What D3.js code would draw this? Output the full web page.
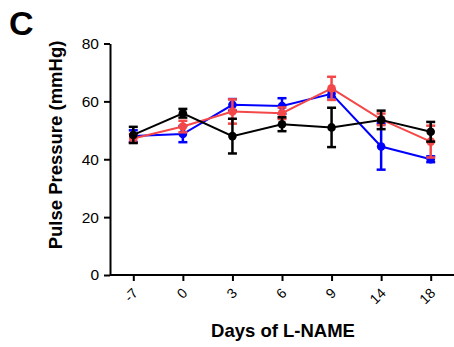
<!DOCTYPE html>
<html>
<head>
<meta charset="utf-8">
<script src="https://cdn.jsdelivr.net/npm/d3@7"></script>
<style>
  body { margin: 0; background: #fff; }
  text { font-family: Arial, "Liberation Sans", sans-serif; }
</style>
</head>
<body>
<div id="chart"></div>
<script>
// tick labels / categories
var days = ['-7', '0', '3', '6', '9', '14', '18'];
var yTicks = [0, 20, 40, 60, 80];

// series means and error (SEM)
var blueMean = [48.0, 48.7, 58.8, 58.4, 62.6, 44.4, 40.0];
var blueErr  = [2.0, 2.8, 2.0, 2.7, 1.2, 8.0, 1.0];
var redMean  = [47.2, 51.3, 56.5, 55.9, 64.5, 53.8, 46.1];
var redErr   = [1.5, 2.0, 4.2, 2.0, 4.0, 2.0, 5.5];
var blackMean = [48.4, 55.9, 48.0, 52.1, 51.0, 53.6, 49.5];
var blackErr  = [2.8, 1.5, 6.0, 2.4, 6.8, 3.2, 3.4];

var width = 454, height = 347;
var padding = { top: 43.5, right: 0, bottom: 72, left: 110 };

var svg = d3.select('#chart').append('svg')
  .attr('width', width)
  .attr('height', height);

var xscale = d3.scalePoint()
  .domain(days)
  .range([padding.left, width - padding.right])
  .padding(0.47);

var yscale = d3.scaleLinear()
  .domain([0, 80])
  .range([height - padding.bottom, padding.top]);

// panel letter
svg.append('text')
  .attr('x', 9).attr('y', 35)
  .style('font-size', '34px')
  .style('font-weight', 'bold')
  .text('C');

// y axis
var yAxis = svg.append('g')
  .attr('transform', 'translate(' + padding.left + ',0)')
  .call(d3.axisLeft(yscale).tickValues(yTicks).tickSize(6).tickSizeOuter(0).tickPadding(5));
yAxis.select('.domain').attr('stroke-width', 2);
yAxis.selectAll('.tick line').attr('stroke-width', 2);
yAxis.selectAll('.tick text').style('font-size', '15.5px').attr('fill', '#000');

// x axis
var xAxis = svg.append('g')
  .attr('transform', 'translate(0,' + (height - padding.bottom) + ')')
  .call(d3.axisBottom(xscale).tickSize(6).tickSizeOuter(0));
xAxis.select('.domain').attr('stroke-width', 2)
  .attr('d', 'M' + padding.left + ',0H' + width);
xAxis.selectAll('.tick line').attr('stroke-width', 2);
xAxis.selectAll('.tick text')
  .style('font-size', '14px')
  .attr('fill', '#000')
  .attr('text-anchor', 'end')
  .attr('dy', null)
  .attr('y', 0)
  .attr('transform', 'translate(5,19) rotate(-45)');

// axis titles
svg.append('text')
  .attr('transform', 'translate(62,145) rotate(-90)')
  .attr('text-anchor', 'middle')
  .style('font-size', '18.5px')
  .style('font-weight', 'bold')
  .text('Pulse Pressure (mmHg)');

svg.append('text')
  .attr('x', 283)
  .attr('y', 337)
  .attr('text-anchor', 'middle')
  .style('font-size', '18.5px')
  .style('font-weight', 'bold')
  .text('Days of L-NAME');

var series = [
  { mean: blueMean, err: blueErr, color: '#0000ff' },
  { mean: redMean, err: redErr, color: '#f44848' },
  { mean: blackMean, err: blackErr, color: '#000000' }
];

var line = d3.line()
  .x(function (d, i) { return xscale(days[i]); })
  .y(function (d) { return yscale(d); });

series.forEach(function (s) {
  var g = svg.append('g');
  var rows = s.mean.map(function (m, i) { return { day: days[i], m: m, e: s.err[i] }; });

  g.append('path')
    .datum(s.mean)
    .attr('fill', 'none')
    .attr('stroke', s.color)
    .attr('stroke-width', 2)
    .attr('d', line);

  var eb = g.selectAll('.err').data(rows).enter().append('g');
  eb.append('line')
    .attr('x1', function (d) { return xscale(d.day); })
    .attr('x2', function (d) { return xscale(d.day); })
    .attr('y1', function (d) { return yscale(d.m - d.e); })
    .attr('y2', function (d) { return yscale(d.m + d.e); })
    .attr('stroke', s.color).attr('stroke-width', 2.5);
  [-1, 1].forEach(function (sign) {
    eb.append('line')
      .attr('x1', function (d) { return xscale(d.day) - 4.5; })
      .attr('x2', function (d) { return xscale(d.day) + 4.5; })
      .attr('y1', function (d) { return yscale(d.m + sign * d.e); })
      .attr('y2', function (d) { return yscale(d.m + sign * d.e); })
      .attr('stroke', s.color).attr('stroke-width', 2.5);
  });

  g.selectAll('.dot').data(rows).enter().append('circle')
    .attr('cx', function (d) { return xscale(d.day); })
    .attr('cy', function (d) { return yscale(d.m); })
    .attr('r', 4.3)
    .attr('fill', s.color);
});
</script>
</body>
</html>
